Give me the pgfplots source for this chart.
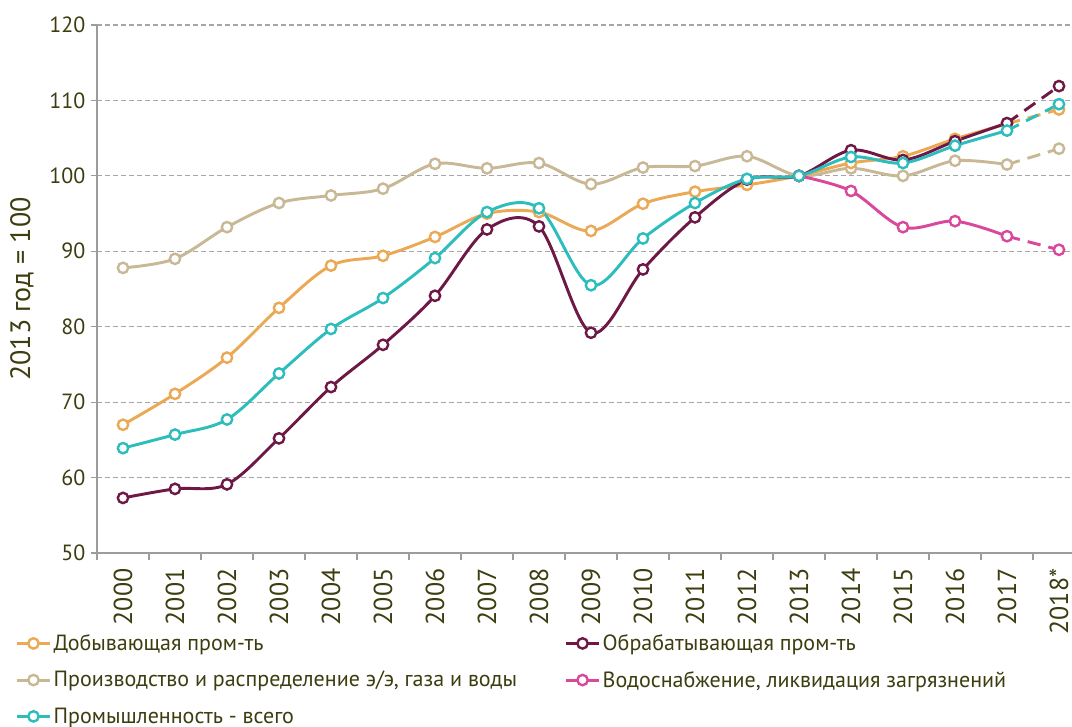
\documentclass[border=0pt]{standalone}
\usepackage{fontspec}
\setmainfont{PT Sans}
\usepackage{pgfplots}
\pgfplotsset{compat=1.18}
\definecolor{cOr}{HTML}{EBA855}
\definecolor{cMa}{HTML}{6E1846}
\definecolor{cBe}{HTML}{C9B896}
\definecolor{cPi}{HTML}{D9489B}
\definecolor{cTe}{HTML}{2DBDBD}
\definecolor{txt}{HTML}{3D3D10}
\definecolor{gridc}{HTML}{A6A6A6}
\definecolor{axc}{HTML}{9C9C9C}
\pgfplotsset{
  ser/.style={#1, line width=2.2pt, smooth, tension=0.55, mark=*, mark size=3.9pt,
    mark options={solid, fill=white, draw=#1, line width=1.8pt}},
  dser/.style={ser=#1, dash pattern=on 10pt off 6pt, forget plot, mark indices={2}},
}
\begin{document}
\begin{tikzpicture}
\begin{axis}[
  scale only axis, width=731.25pt, height=396pt,
  xmin=-0.5, xmax=18.25, ymin=50, ymax=120,
  axis x line*=bottom, axis y line*=left,
  axis line style={axc, line width=1.1pt},
  xtick={0,...,18},
  xticklabels={2000,2001,2002,2003,2004,2005,2006,2007,2008,2009,2010,2011,2012,2013,2014,2015,2016,2017,2018*},
  major x tick style={draw=none},
  minor xtick={-0.5,0.5,...,17.5},
  minor x tick style={axc, line width=0.8pt},
  minor tick length=5.5pt,
  ytick={50,60,...,120},
  tick align=outside,
  major tick length=4.5pt,
  y tick style={axc, line width=0.8pt},
  ymajorgrids,
  grid style={gridc, line width=0.9pt, dash pattern=on 3.5pt off 2.5pt},
  /pgf/number format/assume math mode=true,
  tick label style={text=txt},
  yticklabel style={font=\fontsize{16.5}{20}\selectfont, inner sep=0pt, xshift=-4pt},
  xticklabel style={font=\fontsize{19.5}{23}\selectfont, rotate=90, anchor=east, inner sep=0pt, xshift=-7pt},
  ylabel={2013 год = 100},
  ylabel style={at={(rel axis cs:-0.077,0.5)}, anchor=center, font=\fontsize{21}{25}\selectfont, text=txt},
  legend columns=2,
  legend cell align=left,
  legend image code/.code={\draw[mark repeat=2,mark phase=2,#1] plot coordinates {(0pt,0pt)(12.5pt,0pt)(25pt,0pt)};},
  legend style={at={(rel axis cs:-0.084,-0.150)}, anchor=north west, draw=none, fill=none,
    inner sep=0pt, row sep=11pt,
    font=\fontsize{16.5}{19}\selectfont, text=txt,
    nodes={inner sep=1.5pt},
    /tikz/every even column/.append style={column sep=34pt}},
]
\coordinate (SW) at (rel axis cs:0,0);
\coordinate (NE) at (rel axis cs:1,1);
% beige
\addplot[ser=cBe, forget plot] coordinates {(0,87.8)(1,89.0)(2,93.2)(3,96.4)(4,97.4)(5,98.3)(6,101.6)(7,101.0)(8,101.7)(9,98.9)(10,101.1)(11,101.3)(12,102.6)(13,100)(14,101.0)(15,100.0)(16,102.0)(17,101.5)};
\addplot[dser=cBe] coordinates {(17,101.5)(18,103.6)};
% orange
\addplot[ser=cOr, forget plot] coordinates {(0,67.0)(1,71.1)(2,75.9)(3,82.5)(4,88.1)(5,89.4)(6,91.9)(7,95.0)(8,95.2)(9,92.7)(10,96.3)(11,97.9)(12,98.8)(13,100)(14,101.7)(15,102.6)(16,104.9)(17,106.9)};
\addplot[dser=cOr] coordinates {(17,106.9)(18,108.8)};
% maroon
\addplot[ser=cMa, forget plot] coordinates {(0,57.3)(1,58.5)(2,59.1)(3,65.2)(4,72.0)(5,77.6)(6,84.1)(7,92.9)(8,93.3)(9,79.2)(10,87.6)(11,94.5)(12,99.5)(13,100)(14,103.4)(15,102.1)(16,104.6)(17,107.0)};
\addplot[dser=cMa] coordinates {(17,107.0)(18,111.9)};
% pink
\addplot[ser=cPi, forget plot] coordinates {(13,100)(14,98.0)(15,93.2)(16,94.0)(17,92.0)};
\addplot[dser=cPi] coordinates {(17,92.0)(18,90.2)};
% teal
\addplot[ser=cTe, forget plot] coordinates {(0,63.9)(1,65.7)(2,67.7)(3,73.8)(4,79.7)(5,83.8)(6,89.1)(7,95.2)(8,95.7)(9,85.5)(10,91.7)(11,96.4)(12,99.6)(13,100)(14,102.5)(15,101.7)(16,104.0)(17,106.0)};
\addplot[dser=cTe] coordinates {(17,106.0)(18,109.5)};
% legend
\addlegendimage{ser=cOr}\addlegendentry{Добывающая пром-ть}
\addlegendimage{ser=cMa}\addlegendentry{Обрабатывающая пром-ть}
\addlegendimage{ser=cBe}\addlegendentry{Производство и распределение э/э, газа и воды}
\addlegendimage{ser=cPi}\addlegendentry{Водоснабжение, ликвидация загрязнений}
\addlegendimage{ser=cTe}\addlegendentry{Промышленность - всего}
\end{axis}
\pgfresetboundingbox
\path ([xshift=-72.75pt,yshift=-130.5pt]SW) rectangle ([yshift=18.75pt]NE);
\end{tikzpicture}
\end{document}
